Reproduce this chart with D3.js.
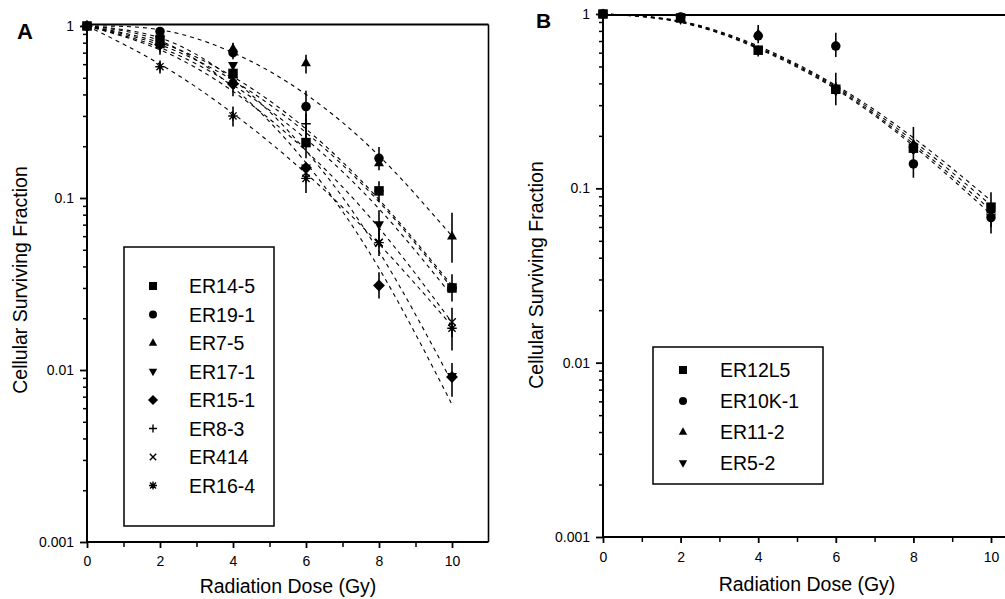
<!DOCTYPE html>
<html><head><meta charset="utf-8">
<script src="https://cdn.jsdelivr.net/npm/d3@7"></script>
<style>
body{margin:0;background:#fff}
svg{display:block}
text{font-family:"Liberation Sans", Arial, Helvetica, sans-serif; fill:#000}
</style>
</head><body>
<svg id="c" width="1005" height="599"></svg>
<script>
// ---------- data ----------
const doses = [0, 2, 4, 6, 8, 10];
const xTickValues = [0, 2, 4, 6, 8, 10];
const xMinorValues = [1, 3, 5, 7, 9];
const yTickValues = [1, 0.1, 0.01, 0.001];
const yTickLabels = ["1", "0.1", "0.01", "0.001"];

const namesA = ["ER14-5", "ER19-1", "ER7-5", "ER17-1", "ER15-1", "ER8-3", "ER414", "ER16-4"];
const shapesA = ["square", "circle", "triangle", "triangleDown", "diamond", "plus", "cross", "asterisk"];
const survA = [
  [1, 0.82, 0.53, 0.21, 0.11, 0.030],
  [1, 0.93, 0.70, 0.34, 0.17, 0.030],
  [1, 0.90, 0.74, 0.61, 0.16, 0.060],
  [1, 0.85, 0.59, 0.15, 0.070, 0.0092],
  [1, 0.78, 0.46, 0.15, 0.031, 0.0091],
  [1, 0.75, 0.50, 0.27, 0.11, 0.030],
  [1, 0.80, 0.50, 0.14, 0.055, 0.019],
  [1, 0.58, 0.30, 0.13, 0.055, 0.0175]
];
const errLoA = [
  [null, null, null, 0.17, 0.095, 0.025],
  [null, null, 0.64, 0.28, 0.145, null],
  [null, null, null, 0.53, null, 0.042],
  [null, null, null, null, 0.058, null],
  [null, null, 0.39, null, 0.026, 0.0070],
  [null, 0.68, null, 0.22, null, null],
  [null, null, null, null, 0.046, 0.0155],
  [null, 0.53, 0.26, 0.107, null, 0.013]
];
const errHiA = [
  [null, null, null, 0.26, 0.125, 0.036],
  [null, null, 0.80, 0.42, 0.198, null],
  [null, null, null, 0.68, null, 0.082],
  [null, null, null, null, 0.085, null],
  [null, null, 0.52, null, 0.037, 0.011],
  [null, 0.83, null, 0.31, null, null],
  [null, null, null, null, 0.066, 0.023],
  [null, 0.63, 0.34, 0.15, null, 0.019]
];
// fitted survival curves read at the doses above
const fitA = [
  [1, 0.777, 0.483, 0.240, 0.095, 0.030],
  [1, 0.80, 0.507, 0.252, 0.098, 0.031],
  [1, 0.95, 0.70, 0.40, 0.176, 0.060],
  [1, 0.853, 0.489, 0.188, 0.0488, 0.0085],
  [1, 0.82, 0.44, 0.16, 0.039, 0.0063],
  [1, 0.75, 0.453, 0.22, 0.0865, 0.027],
  [1, 0.727, 0.417, 0.188, 0.067, 0.0189],
  [1, 0.60, 0.31, 0.139, 0.054, 0.018]
];

const namesB = ["ER12L5", "ER10K-1", "ER11-2", "ER5-2"];
const shapesB = ["square", "circle", "triangle", "triangleDown"];
const survB = [
  [1, 0.95, 0.62, 0.37, 0.17, 0.078],
  [1, 0.96, 0.75, 0.655, 0.138, 0.068],
  [1, 0.95, 0.77, 0.38, 0.18, 0.075],
  [1, 0.93, 0.62, 0.36, 0.165, 0.068]
];
const errLoB = [
  [null, null, null, 0.30, null, 0.060],
  [null, null, 0.68, 0.567, 0.115, null],
  [null, null, null, null, 0.16, null],
  [null, null, 0.57, null, null, 0.055]
];
const errHiB = [
  [null, null, null, 0.46, null, 0.095],
  [null, null, 0.865, 0.78, 0.155, null],
  [null, null, null, null, 0.225, null],
  [null, null, 0.66, null, null, 0.070]
];
const fitB = [
  [1, 0.91, 0.655, 0.39, 0.195, 0.085],
  [1, 0.905, 0.645, 0.383, 0.187, 0.080],
  [1, 0.90, 0.64, 0.376, 0.18, 0.075],
  [1, 0.895, 0.632, 0.37, 0.175, 0.071]
];

// ---------- drawing ----------
const svg = d3.select("#c");
const FONT = '"Liberation Sans", Arial, Helvetica, sans-serif';

function symbolPath(shape, s) {
  const h = s / 2;
  switch (shape) {
    case "square": return `M${-h},${-h}h${s}v${s}h${-s}Z`;
    case "circle": return `M${h},0A${h},${h} 0 1,1 ${-h},0A${h},${h} 0 1,1 ${h},0Z`;
    case "triangle": { const t = s * 0.58; return `M0,${-t}L${h * 1.05},${t * 0.6}L${-h * 1.05},${t * 0.6}Z`; }
    case "triangleDown": { const t = s * 0.58; return `M0,${t}L${h * 1.05},${-t * 0.6}L${-h * 1.05},${-t * 0.6}Z`; }
    case "diamond": { const d = h * 1.25; return `M0,${-d}L${d},0L0,${d}L${-d},0Z`; }
    case "plus": return `M${-h},0H${h}M0,${-h}V${h}`;
    case "cross": { const c = h * 0.8; return `M${-c},${-c}L${c},${c}M${-c},${c}L${c},${-c}`; }
    case "asterisk": { const c = h * 0.75; return `M${-h},0H${h}M0,${-h}V${h}M${-c},${-c}L${c},${c}M${-c},${c}L${c},${-c}`; }
  }
}
const strokeShapes = new Set(["plus", "cross", "asterisk"]);
function drawMarker(g, shape, cx, cy, s) {
  const p = g.append("path").attr("d", symbolPath(shape, s))
    .attr("transform", `translate(${cx},${cy})`);
  if (strokeShapes.has(shape)) p.attr("fill", "none").attr("stroke", "#000").attr("stroke-width", 1.4);
  else p.attr("fill", "#000").attr("stroke", "none");
}

function panel(cfg) {
  const g = svg.append("g");
  const x = d3.scaleLinear().domain([0, 11]).range([cfg.x0, cfg.x0 + cfg.unit * 11]);
  const y = d3.scaleLog().domain([0.001, 1]).range([cfg.yBottom, cfg.yTop]);

  // minor y ticks
  const minor = [];
  [0.001, 0.01, 0.1].forEach(dec => { for (let k = 2; k <= 9; k++) minor.push(dec * k); });
  const yMin = g.append("g").attr("transform", `translate(${cfg.x0},0)`)
    .call(d3.axisLeft(y).tickValues(minor).tickFormat("").tickSize(4).tickSizeOuter(0));
  yMin.select(".domain").remove();
  yMin.selectAll("line").attr("stroke-width", 1.5);

  const yAx = g.append("g").attr("transform", `translate(${cfg.x0},0)`)
    .call(d3.axisLeft(y).tickValues(yTickValues).tickFormat((d, i) => yTickLabels[i])
      .tickSize(7).tickPadding(cfg.yPad).tickSizeOuter(0));
  yAx.attr("font-size", 14).attr("font-family", FONT);
  yAx.select(".domain").attr("stroke-width", 2).attr("d", `M0,${cfg.yBottom}V${cfg.frameTop}`);
  yAx.selectAll("line").attr("stroke-width", 1.8);

  const xMin = g.append("g").attr("transform", `translate(0,${cfg.yBottom})`)
    .call(d3.axisBottom(x).tickValues(xMinorValues).tickFormat("").tickSize(5).tickSizeOuter(0));
  xMin.select(".domain").remove();
  xMin.selectAll("line").attr("stroke-width", 1.5);

  const xAx = g.append("g").attr("transform", `translate(0,${cfg.yBottom})`)
    .call(d3.axisBottom(x).tickValues(xTickValues).tickSize(6).tickPadding(cfg.xPad).tickSizeOuter(0));
  xAx.attr("font-size", 14).attr("font-family", FONT);
  xAx.select(".domain").attr("stroke-width", 2).attr("d", `M${cfg.x0},0H${cfg.xRight}`);
  xAx.selectAll("line").attr("stroke-width", 1.8);

  // frame
  g.append("line").attr("x1", cfg.x0).attr("x2", cfg.frameRight).attr("y1", cfg.frameTop).attr("y2", cfg.frameTop)
    .attr("stroke", "#000").attr("stroke-width", 2);
  if (cfg.showRight) {
    g.append("line").attr("x1", cfg.frameRight).attr("x2", cfg.frameRight).attr("y1", cfg.frameTop).attr("y2", cfg.yBottom)
      .attr("stroke", "#000").attr("stroke-width", 1.6);
  }

  // fitted curves
  const line = d3.line().x(d => x(d[0])).y(d => y(d[1])).curve(d3.curveNatural);
  cfg.fit.forEach(f => {
    g.append("path").datum(doses.map((d, i) => [d, f[i]])).attr("d", line)
      .attr("fill", "none").attr("stroke", "#000").attr("stroke-width", 1.1)
      .attr("stroke-dasharray", "4,4");
  });

  // error bars
  cfg.surv.forEach((s, si) => {
    doses.forEach((d, i) => {
      const lo = cfg.errLo[si][i], hi = cfg.errHi[si][i];
      if (lo != null && hi != null) {
        g.append("line").attr("x1", x(d)).attr("x2", x(d)).attr("y1", y(lo)).attr("y2", y(hi))
          .attr("stroke", "#000").attr("stroke-width", 1.6);
      }
    });
  });
  // points
  cfg.surv.forEach((s, si) => {
    doses.forEach((d, i) => drawMarker(g, cfg.shapes[si], x(d), y(s[i]), 9.5));
  });

  // legend
  const L = cfg.legend;
  g.append("rect").attr("x", L.x).attr("y", L.y).attr("width", L.w).attr("height", L.h)
    .attr("fill", "#fff").attr("stroke", "#000").attr("stroke-width", 1.5);
  cfg.names.forEach((n, i) => {
    const yy = L.first + i * L.step;
    drawMarker(g, cfg.shapes[i], L.sx, yy, 8);
    g.append("text").attr("x", L.tx).attr("y", yy).attr("dy", "0.36em")
      .attr("font-size", 19.5).text(n);
  });

  // titles
  g.append("text").attr("transform", `translate(${cfg.ytX},${cfg.ytY}) rotate(-90)`)
    .attr("text-anchor", "middle").attr("font-size", 19.5).text("Cellular Surviving Fraction");
  g.append("text").attr("x", cfg.xtX).attr("y", cfg.xtY)
    .attr("text-anchor", "middle").attr("font-size", 19.5).text("Radiation Dose (Gy)");
  g.append("text").attr("x", cfg.letterX).attr("y", cfg.letterY)
    .attr("font-size", cfg.letterSize).attr("font-weight", "bold").text(cfg.letter);
}

panel({
  x0: 87, unit: 36.5, yTop: 26, yBottom: 542, frameTop: 24.5, frameRight: 488.5, xRight: 488.5, showRight: true,
  yPad: 6, xPad: 8,
  names: namesA, shapes: shapesA, surv: survA, errLo: errLoA, errHi: errHiA, fit: fitA,
  legend: { x: 124, y: 247, w: 150, h: 279, first: 286, step: 28.5, sx: 153, tx: 189 },
  ytX: 27, ytY: 280, xtX: 288, xtY: 593, letter: "A", letterX: 17, letterY: 39, letterSize: 22
});
panel({
  x0: 603, unit: 38.8, yTop: 14, yBottom: 537, frameTop: 15, frameRight: 1005, xRight: 1005, showRight: false,
  yPad: 6, xPad: 9,
  names: namesB, shapes: shapesB, surv: survB, errLo: errLoB, errHi: errHiB, fit: fitB,
  legend: { x: 653, y: 347, w: 170, h: 137, first: 370, step: 31, sx: 683, tx: 720 },
  ytX: 543, ytY: 275, xtX: 807, xtY: 591, letter: "B", letterX: 536, letterY: 28, letterSize: 21
});
</script>
</body></html>
